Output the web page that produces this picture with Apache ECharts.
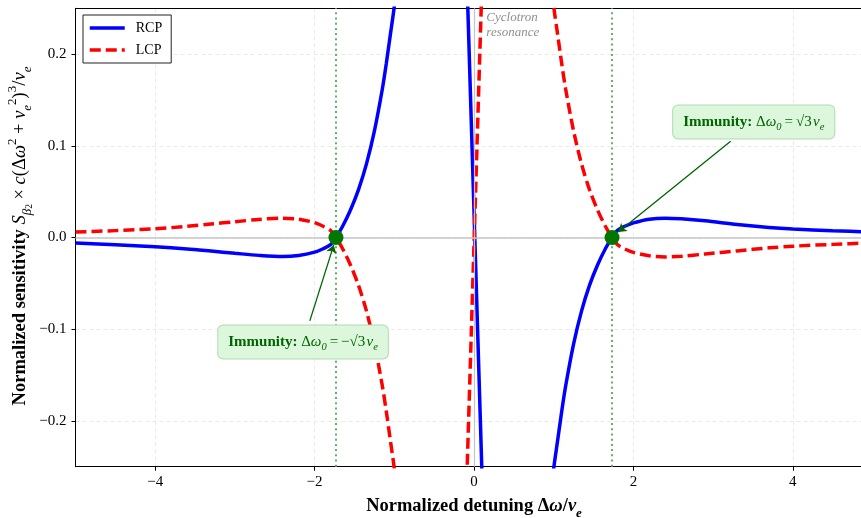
<!DOCTYPE html>
<html><head><meta charset="utf-8">
<script src="https://cdn.jsdelivr.net/npm/echarts@6/dist/echarts.min.js"></script>
<style>html,body{margin:0;padding:0;background:#fff}#c{width:861px;height:518px}</style>
</head><body><div id="c"></div>
<script>
// ---- data ----
const rcpX = [-5.0, -4.5, -4.0, -3.6, -3.3, -3.0, -2.7, -2.4, -2.2, -2.0, -1.9, -1.8, -1.732, -1.65, -1.55, -1.45, -1.35, -1.25, -1.15, -1.10, -1.05, -1.00, -0.96,
  -0.5, -0.095, 0.115, 0.5,
  0.96, 1.00, 1.05, 1.10, 1.15, 1.25, 1.35, 1.45, 1.55, 1.65, 1.732, 1.8, 1.9, 2.0, 2.2, 2.4, 2.6, 2.9, 3.3, 3.7, 4.0, 4.5, 5.0];
const rcpY = [-0.0060, -0.0080, -0.0102, -0.0125, -0.0148, -0.0172, -0.0195, -0.0208, -0.0196, -0.0160, -0.0125, -0.0078, 0, 0.012, 0.030, 0.052, 0.080, 0.116, 0.162, 0.190, 0.221, 0.252, 0.285,
  null, 0.30, -0.30, null,
  -0.285, -0.252, -0.221, -0.190, -0.162, -0.116, -0.080, -0.052, -0.030, -0.012, 0, 0.0078, 0.0125, 0.0160, 0.0200, 0.0211, 0.0204, 0.0182, 0.0142, 0.0110, 0.0093, 0.0074, 0.0060];
const lcpX = [-5.0, -4.5, -4.0, -3.6, -3.3, -3.0, -2.7, -2.4, -2.2, -2.0, -1.9, -1.8, -1.732, -1.65, -1.55, -1.45, -1.35, -1.25, -1.15, -1.10, -1.05, -1.00, -0.96,
  -0.5, -0.103, 0.108, 0.5,
  0.96, 1.00, 1.05, 1.10, 1.15, 1.25, 1.35, 1.45, 1.55, 1.65, 1.732, 1.8, 1.9, 2.0, 2.2, 2.4, 2.6, 2.9, 3.3, 3.7, 4.0, 4.5, 5.0];
const lcpY = [0.0059, 0.0075, 0.0095, 0.0122, 0.0148, 0.0172, 0.0197, 0.0211, 0.0200, 0.0162, 0.0125, 0.0077, 0, -0.012, -0.030, -0.052, -0.080, -0.116, -0.162, -0.190, -0.221, -0.252, -0.285,
  null, -0.30, 0.30, null,
  0.285, 0.252, 0.221, 0.190, 0.162, 0.116, 0.080, 0.052, 0.030, 0.012, 0, -0.0078, -0.0128, -0.0162, -0.0200, -0.0213, -0.0205, -0.0180, -0.0146, -0.0113, -0.0095, -0.0075, -0.0058];
const immunityX = [-1.732, 1.732];
const immunityY = [0, 0];
const xTicks = [-4, -2, 0, 2, 4];
const yTicks = [-0.2, -0.1, 0.0, 0.1, 0.2];
// annotation anchors (data coordinates)
const annRightText = [3.51, 0.126], annRightFrom = [3.22, 0.105], annRightTo = [1.81, 0.006];
const annLeftText = [-2.145, -0.114], annLeftFrom = [-2.06, -0.091], annLeftTo = [-1.76, -0.0083];
const cycloText = [0.155, 0.2485];

const SERIF = "'Liberation Serif','Times New Roman',Times,serif";
const zip = (xs, ys) => xs.map((x, i) => [x, ys[i]]);
const has = (arr, v) => arr.some(t => Math.abs(t - v) < 1e-9);
const fmt = (v, d) => (v < -1e-9 ? '\u2212' : '') + Math.abs(v).toFixed(d);

const chart = echarts.init(document.getElementById('c'), null, {renderer: 'canvas'});

const gridLine = {show: true, lineStyle: {color: '#e4e4e4', width: 0.8, type: [4, 3]}};
const tickStyle = {show: true, inside: false, length: 4, lineStyle: {color: '#000', width: 1}};
const labelStyle = {fontFamily: SERIF, fontSize: 15, color: '#000'};

const option = {
  animation: false,
  backgroundColor: '#fff',
  grid: {left: 75.5, top: 8.3, width: 797, height: 458.4, containLabel: false, outerBoundsMode: 'none'},
  legend: {
    data: ['RCP', 'LCP'], orient: 'vertical', left: 83, top: 15,
    padding: [6, 9, 6, 5], itemWidth: 35, itemHeight: 14, itemGap: 8,
    backgroundColor: '#fff', borderColor: '#222', borderWidth: 1, borderRadius: 0,
    itemStyle: {opacity: 0},
    lineStyle: {width: 3.5},
    textStyle: {fontFamily: SERIF, fontSize: 14, color: '#000', padding: [0, 0, 0, 6]}
  },
  xAxis: [{
    type: 'value', min: -5, max: 5, position: 'bottom',
    axisLine: {show: true, onZero: false, lineStyle: {color: '#000', width: 1}},
    axisTick: Object.assign({customValues: xTicks}, tickStyle),
    axisLabel: Object.assign({customValues: xTicks, margin: 8, formatter: v => has(xTicks, v) ? fmt(v, 0) : ''}, labelStyle),
    splitLine: gridLine,
    name: '{b|Normalized detuning \u0394}{bi|\u03c9}{b|/}{bi|\u03bd}{bs|e}',
    nameLocation: 'middle', nameGap: 27,
    nameTextStyle: {
      rich: {
        b: {fontFamily: SERIF, fontWeight: 'bold', fontSize: 18.5, color: '#000', lineHeight: 26},
        bi: {fontFamily: SERIF, fontWeight: 'bold', fontStyle: 'italic', fontSize: 18.5, color: '#000', lineHeight: 26},
        bs: {fontFamily: SERIF, fontWeight: 'bold', fontStyle: 'italic', fontSize: 13, color: '#000', verticalAlign: 'bottom', lineHeight: 26}
      }
    }
  }, {
    type: 'value', min: -5, max: 5, position: 'top',
    axisLine: {show: true, onZero: false, lineStyle: {color: '#000', width: 1}},
    axisTick: {show: false}, axisLabel: {show: false}, splitLine: {show: false}
  }],
  yAxis: {
    type: 'value', min: -0.25, max: 0.25,
    axisLine: {show: true, onZero: false, lineStyle: {color: '#000', width: 1}},
    axisTick: Object.assign({customValues: yTicks}, tickStyle),
    axisLabel: Object.assign({customValues: yTicks, margin: 9, formatter: v => has(yTicks, v) ? fmt(v, 1) : ''}, labelStyle),
    splitLine: gridLine
  },
  series: [
    {
      type: 'line', name: '_ref', data: [], z: 1, silent: true,
      markLine: {
        silent: true, symbol: ['none', 'none'], label: {show: false}, animation: false,
        data: [
          {yAxis: 0, lineStyle: {color: '#c4c4c4', width: 1.5, type: 'solid'}},
          {xAxis: 0, lineStyle: {color: '#c4c4c4', width: 1.2, type: 'solid'}},
          {xAxis: immunityX[0], lineStyle: {color: '#62b462', width: 2, type: [2, 3.2]}},
          {xAxis: immunityX[1], lineStyle: {color: '#62b462', width: 2, type: [2, 3.2]}}
        ]
      }
    },
    {
      type: 'line', name: 'RCP', data: zip(rcpX, rcpY), symbol: 'none', showSymbol: false,
      smooth: 0.3, connectNulls: false, clip: true, z: 3,
      lineStyle: {color: '#0000ff', width: 3.5}, itemStyle: {color: '#0000ff'}
    },
    {
      type: 'line', name: 'LCP', data: zip(lcpX, lcpY), symbol: 'none', showSymbol: false,
      smooth: 0.3, connectNulls: false, clip: true, z: 3,
      lineStyle: {color: '#ff0000', width: 3.5, type: [11, 5]}, itemStyle: {color: '#ff0000'}
    },
    {
      type: 'scatter', name: '_dots', data: zip(immunityX, immunityY), symbol: 'circle', symbolSize: 15,
      itemStyle: {color: '#007800', opacity: 1, borderWidth: 0}, z: 10, silent: true
    },
    {
      type: 'scatter', name: '_arrows', data: [], z: 11, silent: true,
      markLine: {
        silent: true, symbol: ['none', 'arrow'], symbolSize: 8, label: {show: false}, animation: false,
        lineStyle: {color: '#006400', width: 1.3, type: 'solid', opacity: 1},
        data: [
          [{coord: annRightFrom}, {coord: annRightTo}],
          [{coord: annLeftFrom}, {coord: annLeftTo}]
        ]
      }
    }
  ]
};
chart.setOption(option);

const px = d => chart.convertToPixel({xAxisIndex: 0, yAxisIndex: 0}, d);
const G = '#006400';
const annRich = {
  g: {fontFamily: SERIF, fontWeight: 'bold', fontSize: 15, fill: G, lineHeight: 21},
  gr: {fontFamily: SERIF, fontSize: 15, fill: G, lineHeight: 21},
  gi: {fontFamily: SERIF, fontStyle: 'italic', fontSize: 15, fill: G, lineHeight: 21},
  gs: {fontFamily: SERIF, fontStyle: 'italic', fontSize: 10.5, fill: G, verticalAlign: 'bottom', lineHeight: 21}
};
const boxStyle = {backgroundColor: '#dcf7dc', borderColor: '#b2d9b2', borderWidth: 1, borderRadius: 5, padding: [6, 10, 6, 10]};
const pr = px(annRightText), pl = px(annLeftText), pc = px(cycloText);
const K = '#000';
const yRich = {
  b: {fontFamily: SERIF, fontWeight: 'bold', fontSize: 18.5, fill: K, lineHeight: 28},
  mi: {fontFamily: SERIF, fontStyle: 'italic', fontSize: 18.5, fill: K, lineHeight: 28},
  mr: {fontFamily: SERIF, fontSize: 18.5, fill: K, lineHeight: 28},
  sub: {fontFamily: SERIF, fontStyle: 'italic', fontSize: 13, fill: K, verticalAlign: 'bottom', lineHeight: 28},
  sub2: {fontFamily: SERIF, fontSize: 9.5, fill: K, verticalAlign: 'bottom', lineHeight: 28},
  sup: {fontFamily: SERIF, fontSize: 13, fill: K, verticalAlign: 'top', lineHeight: 28}
};
chart.setOption({
  graphic: [
    {
      type: 'text', x: 20, y: 236, rotation: Math.PI / 2, silent: true,
      style: {
        text: '{b|Normalized sensitivity }{mi|S}{sub|\u03b2}{sub2|2}{mr| \u00d7 }{mi|c}{mr|(\u0394}{mi|\u03c9}{sup|2}{mr| + }{mi|\u03bd}{sub|e}{sup|2}{mr|)}{sup|3}{mr|/}{mi|\u03bd}{sub|e}',
        rich: yRich, align: 'center', verticalAlign: 'middle'
      }
    },
    {
      type: 'text', x: pr[0], y: pr[1], silent: true, z: 10,
      style: Object.assign({
        text: '{g|Immunity: }{gr|\u0394}{gi|\u03c9}{gs|0}{gr|\u2009=\u2009\u221a3\u200a}{gi|\u03bd}{gs|e}',
        rich: annRich, align: 'center', verticalAlign: 'middle'
      }, boxStyle)
    },
    {
      type: 'text', x: pl[0], y: pl[1], silent: true, z: 10,
      style: Object.assign({
        text: '{g|Immunity: }{gr|\u0394}{gi|\u03c9}{gs|0}{gr|\u2009=\u2009\u2212\u221a3\u200a}{gi|\u03bd}{gs|e}',
        rich: annRich, align: 'center', verticalAlign: 'middle'
      }, boxStyle)
    },
    {
      type: 'text', x: pc[0], y: pc[1], silent: true,
      style: {
        text: 'Cyclotron\nresonance', fontFamily: SERIF, fontStyle: 'italic', fontSize: 13,
        lineHeight: 15, fill: '#8f8f8f', align: 'left', verticalAlign: 'top'
      }
    }
  ]
});
</script></body></html>
